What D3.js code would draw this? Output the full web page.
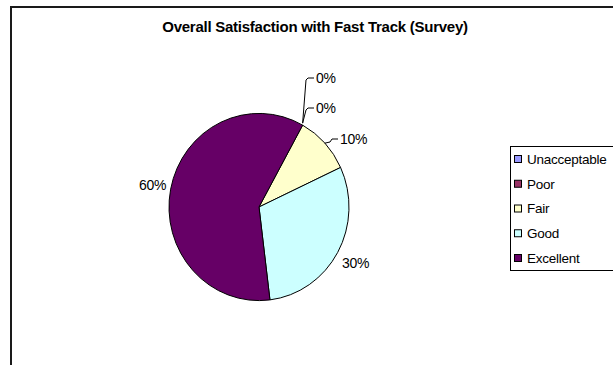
<!DOCTYPE html>
<html>
<head>
<meta charset="utf-8">
<script src="https://cdn.jsdelivr.net/npm/d3@7"></script>
<style>
  body { margin: 0; background: #fff; }
  text { font-family: "Liberation Sans", Arial, sans-serif; }
</style>
</head>
<body>
<div id="chart"></div>
<script>
var categories = ["Unacceptable", "Poor", "Fair", "Good", "Excellent"];
var values = [0, 0, 10, 30, 60];
var colors = ["#9999ff", "#993366", "#ffffcc", "#ccffff", "#660066"];
var title = "Overall Satisfaction with Fast Track (Survey)";

var width = 613, height = 365;
var cx = 259, cy = 207, r = 90, squash = 1.04;
var startDeg = 29;

var svg = d3.select("#chart").append("svg")
    .attr("width", width)
    .attr("height", height);

// chart frame (runs off the right and bottom)
svg.append("rect")
    .attr("x", 11).attr("y", 7)
    .attr("width", 700).attr("height", 500)
    .attr("fill", "none")
    .attr("stroke", "#1a1a1a")
    .attr("stroke-width", 2);

svg.append("text")
    .attr("x", 315).attr("y", 32)
    .attr("text-anchor", "middle")
    .attr("font-size", 15)
    .attr("font-weight", "bold")
    .attr("letter-spacing", -0.25)
    .text(title);

var total = d3.sum(values);
var pie = d3.pie().sort(null)
    .startAngle(startDeg * Math.PI / 180)
    .endAngle(startDeg * Math.PI / 180 + 2 * Math.PI);
var arcs = pie(values);
var arc = d3.arc().innerRadius(0).outerRadius(r);

var g = svg.append("g")
    .attr("transform", "translate(" + cx + "," + cy + ") scale(1," + squash + ")");

g.selectAll("path")
    .data(arcs.filter(function(d) { return d.value > 0; }))
  .enter().append("path")
    .attr("d", arc)
    .attr("fill", function(d) { return colors[d.index]; })
    .attr("stroke", "#000")
    .attr("stroke-width", 1)
    .attr("vector-effect", "non-scaling-stroke");

// point on the (squashed) rim for an angle
function rim(a, rr) {
  return [cx + Math.sin(a) * rr, cy - Math.cos(a) * rr * squash];
}

function pct(v) { return Math.round(v / total * 100) + "%"; }

// labels: offsets picked to look like the Excel layout
var labelPos = [
  {x: 316, y: 78, leader: true},
  {x: 316, y: 108, leader: true},
  {x: 340, y: 139, leader: true},
  {x: 342, y: 263, leader: false},
  {x: 139, y: 185, leader: false}
];

arcs.forEach(function(d, i) {
  var p = labelPos[i];
  var mid = (d.startAngle + d.endAngle) / 2;
  if (p.leader) {
    var e = rim(mid, r);
    var bend = [p.x - 8, p.y];
    var pts = i < 2
      ? [[e[0], e[1] - 2], [bend[0] - 2, p.y + 2], [bend[0], p.y], [p.x - 2, p.y]]
      : [[e[0], e[1]], [bend[0] - 2, p.y + 3], [bend[0], p.y], [p.x - 2, p.y]];
    svg.append("path")
        .attr("d", d3.line()(pts))
        .attr("fill", "none")
        .attr("stroke", "#000")
        .attr("stroke-width", 1);
  }
  svg.append("text")
      .attr("x", p.x).attr("y", p.y)
      .attr("dy", "0.36em")
      .attr("font-size", 14)
      .attr("letter-spacing", -0.3)
      .text(pct(d.value));
});

// legend
var legend = svg.append("g");
legend.append("rect")
    .attr("x", 510.5).attr("y", 146.5)
    .attr("width", 120).attr("height", 124)
    .attr("fill", "#fff")
    .attr("stroke", "#000")
    .attr("stroke-width", 1);

var ly = d3.scalePoint().domain(categories).range([159, 258]);

legend.selectAll("rect.key")
    .data(categories)
  .enter().append("rect")
    .attr("class", "key")
    .attr("x", 514.5)
    .attr("y", function(d) { return ly(d) - 3.5; })
    .attr("width", 7).attr("height", 7)
    .attr("fill", function(d, i) { return colors[i]; })
    .attr("stroke", "#000")
    .attr("stroke-width", 1);

legend.selectAll("text")
    .data(categories)
  .enter().append("text")
    .attr("x", 527)
    .attr("y", function(d) { return ly(d); })
    .attr("dy", "0.36em")
    .attr("font-size", 13.5)
    .attr("letter-spacing", -0.25)
    .text(function(d) { return d; });
</script>
</body>
</html>
